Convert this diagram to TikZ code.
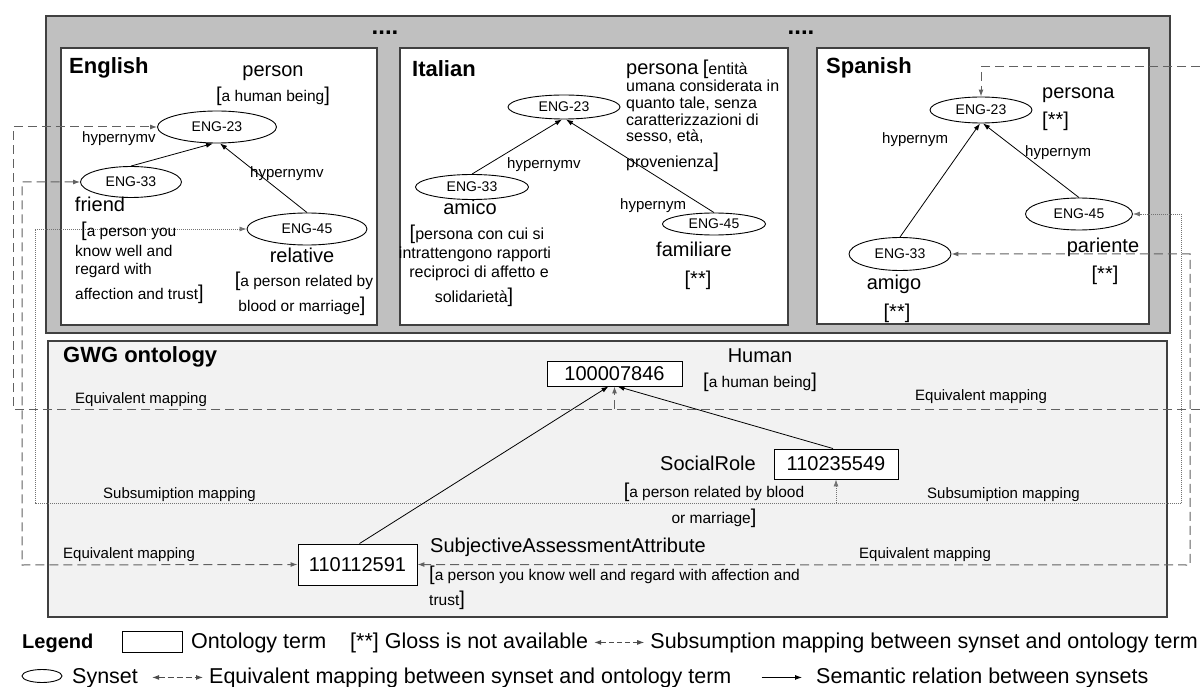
\documentclass[tikz,border=0pt]{standalone}
\usepackage{fontspec}
\setmainfont{Liberation Sans}
\usetikzlibrary{arrows.meta,shapes.geometric}
\newcommand\myfs[1]{\fontsize{#1}{#1}\selectfont}
\newcommand\lbk{{\myfs{20}[}}
\newcommand\rbk{{\myfs{20}]}}
\definecolor{panelgray}{HTML}{C0C0C0}
\definecolor{ontbg}{HTML}{F2F2F2}
\definecolor{frame}{HTML}{404040}

\begin{document}
\begin{tikzpicture}[x=1pt,y=-1pt,
  >={Latex[length=7pt,width=5pt]},
  syn/.style={ellipse,draw=black,line width=0.9pt,fill=white,inner sep=0pt,font=\myfs{14}},
  term/.style={rectangle,draw=black,line width=0.9pt,fill=white,inner sep=0pt,font=\myfs{20}},
  ttl/.style={font=\bfseries\myfs{22},anchor=base west,inner sep=0pt},
  word/.style={font=\myfs{20},anchor=base,inner sep=0pt},
  gl/.style={font=\myfs{15.5},anchor=base west,inner sep=0pt},
  lab/.style={font=\myfs{15},anchor=base west,inner sep=0pt},
  leg/.style={font=\myfs{21.5},anchor=base west,inner sep=0pt},
  rel/.style={line width=0.8pt,->},
  eqv/.style={draw=black!62,line width=1pt,dash pattern=on 9pt off 5pt},
  sub/.style={draw=black!55,line width=0.8pt,dash pattern=on 1pt off 1pt},
  panel/.style={draw=frame,line width=1.2pt},
]
\useasboundingbox (0,0) rectangle (1200,687);
\fill[white] (0,0) rectangle (1200,687);

% ---- wordnet panels ----
\draw[panel,fill=panelgray] (46,16) rectangle (1170,333);
\draw[panel,fill=white] (61,48) rectangle (377,325);
\draw[panel,fill=white] (400,48) rectangle (788,325);
\draw[panel,fill=white] (817,48) rectangle (1149,324);
\node[font=\bfseries\myfs{24},inner sep=0pt] (dotsa) at (385,33) {....};
\node[font=\bfseries\myfs{24},inner sep=0pt] (dotsb) at (801,33) {....};

% ---- ontology panel ----
\draw[panel,fill=ontbg] (48,341) rectangle (1167,617);

% ---- synsets ----
\node[syn,minimum width=119pt,minimum height=32pt] (e23) at (217,127) {ENG-23};
\node[syn,minimum width=101pt,minimum height=31pt] (e33) at (131,182) {ENG-33};
\node[syn,minimum width=120pt,minimum height=32pt] (e45) at (307,229) {ENG-45};

\node[syn,minimum width=112pt,minimum height=24pt] (i23) at (564,107) {ENG-23};
\node[syn,minimum width=113pt,minimum height=25pt] (i33) at (472,187) {ENG-33};
\node[syn,minimum width=103pt,minimum height=22pt] (i45) at (714,224) {ENG-45};

\node[syn,minimum width=102pt,minimum height=26pt] (s23) at (981,110) {ENG-23};
\node[syn,minimum width=107pt,minimum height=32pt] (s45) at (1079,214) {ENG-45};
\node[syn,minimum width=102pt,minimum height=33pt] (s33) at (900,254) {ENG-33};

% ---- ontology terms ----
\node[term,minimum width=135pt,minimum height=25pt] (t1) at (614.5,373.5) {100007846};
\node[term,minimum width=124pt,minimum height=30pt] (t2) at (836,464) {110235549};
\node[term,minimum width=119pt,minimum height=41pt] (t3) at (357.5,564.5) {110112591};

% ---- mapping connectors ----
\coordinate (eqL) at (13,409);
\coordinate (eqR) at (1200,409);
\coordinate (eqT) at (1200,67);
\coordinate (eqB) at (22,565);
\coordinate (eqC) at (1190,565);
\coordinate (suL) at (35,503);
\coordinate (suR) at (1181,503);

\draw[eqv,->] (eqR) -- (eqL) |- (e23.west);
\draw[eqv,->] (t1.south |- eqL) -- (t1.south);
\draw[eqv,->] (eqT) -| (s23.north);
\draw[eqv,<->] (e33.west) -| (eqB) -- (t3.west);
\draw[eqv,<->] (s33.east) -| (eqC) -- (t3.east);
\draw[sub,<->] (e45.west) -| (suL) -- (t2.south |- suL) -- (t2.south);
\draw[sub,->] (suR) |- (s45.east);
\draw[sub] (suR) -- (t2.south |- suR);

% ---- semantic relations ----
\draw[rel] (e33.north) -- ([xshift=-4pt]e23.south);
\draw[rel] (e45.north) -- ([xshift=3pt]e23.south);
\draw[rel] (i33.north) -- ([xshift=-2pt]i23.south);
\draw[rel] (i45.north) -- ([xshift=2pt]i23.south);
\draw[rel] (s33.north) -- ([xshift=-1pt]s23.south);
\draw[rel] (s45.north) -- ([xshift=2pt]s23.south);
\draw[rel] ([xshift=2pt]t3.north) -- ([xshift=-6pt]t1.south);
\draw[rel] ([xshift=-3pt]t2.north) -- ([xshift=3pt]t1.south);

% ---- English ----
\node[ttl] (en) at (69,74) {English};
\node[word] (enw1) at (273,77) {person};
\node[gl,anchor=base] (eng1) at (273,102) {\lbk a human being\rbk};
\node[lab] (enl1) at (82,143) {hypernymv};
\node[lab] (enl2) at (250,178) {hypernymv};
\node[word] (enw2) at (100,212) {friend};
\node[word] (enw3) at (302,262) {relative};
\node[gl] (eng2a) at (81,237) {\lbk a person you};
\node[gl] (eng2b) at (75,257) {know well and};
\node[gl] (eng2c) at (75,275) {regard with};
\node[gl] (eng2d) at (75,299) {affection and trust\rbk};
\node[gl,anchor=base] (eng3a) at (304,287) {\lbk a person related by};
\node[gl,anchor=base] (eng3b) at (302,312) {blood or marriage\rbk};

% ---- Italian ----
\node[ttl] (it) at (412,77) {Italian};
\node[gl,font=\myfs{16}] (itg1) at (626,75) {{\myfs{20}persona} \lbk entità};
\node[gl,font=\myfs{16}] (itg2) at (626,92) {umana considerata in};
\node[gl,font=\myfs{16}] (itg3) at (626,109) {quanto tale, senza};
\node[gl,font=\myfs{16}] (itg4) at (626,126) {caratterizzazioni di};
\node[gl,font=\myfs{16}] (itg5) at (626,142) {sesso, età,};
\node[gl,font=\myfs{16}] (itg6) at (626,168) {provenienza\rbk};
\node[lab] (itl1) at (507,169) {hypernymv};
\node[lab] (itl2) at (620,210) {hypernym};
\node[word] (itw1) at (470,215) {amico};
\node[gl,font=\myfs{16},anchor=base] (itg7) at (477,240) {\lbk persona con cui si};
\node[gl,font=\myfs{16},anchor=base] (itg8) at (475,259) {intrattengono rapporti};
\node[gl,font=\myfs{16},anchor=base] (itg9) at (479,278) {reciproci di affetto e};
\node[gl,font=\myfs{16},anchor=base] (itg10) at (474,302) {solidarietà\rbk};
\node[word] (itw2) at (694,257) {familiare};
\node[word] (itw3) at (698,286) {[**]};

% ---- Spanish ----
\node[ttl] (es) at (826,74) {Spanish};
\node[word,anchor=base west] (esw1) at (1042,99) {persona};
\node[word,anchor=base west] (esw2) at (1042,127) {[**]};
\node[lab] (esl1) at (882,144) {hypernym};
\node[lab] (esl2) at (1025,157) {hypernym};
\node[word] (esw3) at (1103,253) {pariente};
\node[word] (esw4) at (1105,280) {[**]};
\node[word] (esw5) at (894,290) {amigo};
\node[word] (esw6) at (897,318) {[**]};

% ---- GWG ontology ----
\node[ttl] (gwg) at (63,362) {GWG ontology};
\node[word] (gw1) at (760,362) {Human};
\node[gl] (gg1) at (703,387) {\lbk a human being\rbk};
\node[word] (gw2) at (708,470) {SocialRole};
\node[gl,anchor=base] (gg2a) at (714,497) {\lbk a person related by blood};
\node[gl,anchor=base] (gg2b) at (714,523) {or marriage\rbk};
\node[word,anchor=base west] (gw3) at (430,552) {SubjectiveAssessmentAttribute};
\node[gl] (gg3a) at (429,580) {\lbk a person you know well and regard with affection and};
\node[gl] (gg3b) at (429,605) {trust\rbk};
\node[lab] (m1) at (75,403) {Equivalent mapping};
\node[lab] (m2) at (915,400) {Equivalent mapping};
\node[lab] (m3) at (103,498) {Subsumiption mapping};
\node[lab] (m4) at (927,498) {Subsumiption mapping};
\node[lab] (m5) at (63,558) {Equivalent mapping};
\node[lab] (m6) at (859,558) {Equivalent mapping};

% ---- legend ----
\node[ttl,font=\bfseries\myfs{20}] (lg) at (22,648) {Legend};
\node[draw=black,line width=0.9pt,minimum width=60pt,minimum height=21pt,inner sep=0pt] (lgbox) at (152,642) {};
\node[leg] (lg1) at (191,648) {Ontology term};
\node[leg] (lg2) at (350,648) {[**] Gloss is not available};
\node[leg,anchor=base east] (lg3) at (1198,648) {Subsumption mapping between synset and ontology term};
\draw[draw=black!70,line width=0.9pt,dash pattern=on 5pt off 3pt,<->] ([xshift=6pt]lg2.east) -- ([xshift=-6pt]lg3.west);

\node[ellipse,draw=black,line width=0.9pt,minimum width=40pt,minimum height=13pt,inner sep=0pt] (lgsyn) at (42,676) {};
\node[leg] (lg4) at (72,683) {Synset};
\node[leg] (lg5) at (209,683) {Equivalent mapping between synset and ontology term};
\node[leg] (lg6) at (816,683) {Semantic relation between synsets};
\draw[draw=black!70,line width=0.9pt,dash pattern=on 6pt off 3pt,<->] ([xshift=-6pt]lg5.west -| lg4.east) ++(20pt,0) -- ([xshift=-6pt]lg5.west);
\draw[rel] ([xshift=30pt]lg5.east) -- ([xshift=-14pt]lg6.west);
\end{tikzpicture}
\end{document}
